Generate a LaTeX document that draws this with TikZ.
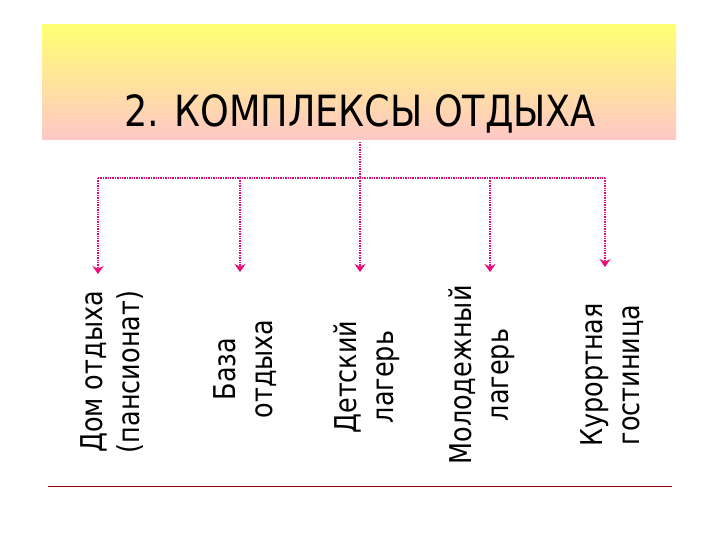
\documentclass[tikz,border=0pt]{standalone}
\usepackage{fontspec}
\setmainfont{DejaVu Sans}
\usetikzlibrary{arrows.meta}
\begin{document}
\begin{tikzpicture}[x=1pt,y=-1pt,
  conn/.style={draw=magenta!80!red,densely dotted,line width=1.4pt},
  arr/.style={conn,-{Stealth[length=8pt,width=11pt]}},
  lbl/.style={rotate=90,align=center,inner sep=0pt,font=\fontsize{30}{37}\selectfont\addfontfeature{FakeStretch=0.85}}]
\useasboundingbox (0,0) rectangle (720,540);
\fill[white] (0,0) rectangle (720,540);
\shade[top color=yellow!55!white,bottom color=red!22!white] (42,25) rectangle (676,140);
\node (title) at (360,114) {\fontsize{43}{48}\selectfont\addfontfeature{FakeStretch=0.85}2. КОМПЛЕКСЫ ОТДЫХА};
\coordinate (top) at (360,142);
\coordinate (hub) at (360,178);
\coordinate (l) at (98,178);
\coordinate (b) at (240,178);
\coordinate (m) at (490,178);
\coordinate (r) at (605,178);
\node[lbl] (n1) at (112,372) {Дом отдыха\\(пансионат)};
\node[lbl] (n2) at (245,369) {База\\отдыха};
\node[lbl] (n3) at (367,377) {Детский\\лагерь};
\node[lbl] (n4) at (482,375) {Молодежный\\лагерь};
\node[lbl] (n5) at (612,375) {Курортная\\гостиница};
\coordinate (e1) at (98,274);
\coordinate (e2) at (240,272);
\coordinate (e3) at (360,272);
\coordinate (e4) at (490,272);
\coordinate (e5) at (605,267);
\draw[conn] (l) -- (r);
\draw[arr] (top) -- (e3);
\draw[arr] (l) -- (e1);
\draw[arr] (b) -- (e2);
\draw[arr] (m) -- (e4);
\draw[arr] (r) -- (e5);
\draw[draw=red!60!black,line width=1pt] (48,486) -- (672,486);
\end{tikzpicture}
\end{document}
